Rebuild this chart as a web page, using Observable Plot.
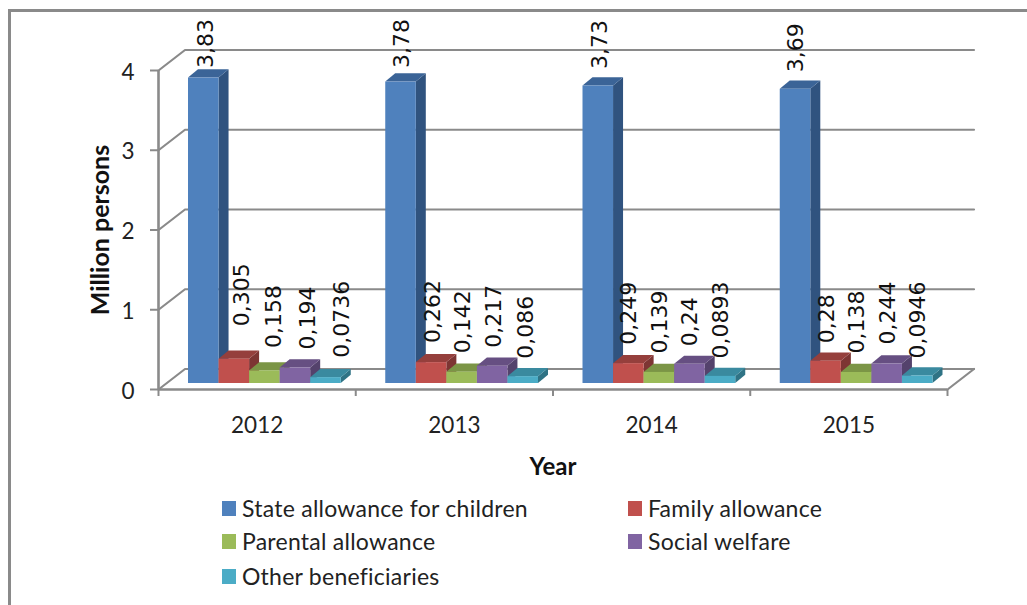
<!DOCTYPE html>
<html>
<head>
<meta charset="utf-8">
<script src="https://cdn.jsdelivr.net/npm/d3@7"></script>
<script src="https://cdn.jsdelivr.net/npm/@observablehq/plot@0.6"></script>
<style>
  html, body { margin: 0; padding: 0; background: #fff; }
  #page { position: relative; width: 1027px; height: 605px; overflow: hidden; }
  #page svg { display: block; }
  #border { position: absolute; left: 8px; top: 9px; right: 0; bottom: 0;
            border-left: 3px solid #8a8a8a; border-top: 3px solid #8a8a8a; pointer-events: none; }
  #legend { position: absolute; left: 0; top: 0; font-family: Lato, sans-serif; font-size: 23px; color: #222; }
  .entry { position: absolute; white-space: nowrap; line-height: 24px; letter-spacing: 0.25px; }
  .entry i { position: absolute; left: -20px; top: 5px; width: 14px; height: 15px; }
</style>
</head>
<body>
<div id="page">
  <div id="chart"></div>
  <div id="legend"></div>
  <div id="border"></div>
</div>
<script>
const years = [2012, 2013, 2014, 2015];
const seriesNames = ["State allowance for children", "Family allowance", "Parental allowance", "Social welfare", "Other beneficiaries"];
const stateAllowance = [3.83, 3.78, 3.73, 3.69];
const familyAllowance = [0.305, 0.262, 0.249, 0.28];
const parentalAllowance = [0.158, 0.142, 0.139, 0.138];
const socialWelfare = [0.194, 0.217, 0.24, 0.244];
const otherBeneficiaries = [0.0736, 0.086, 0.0893, 0.0946];
const seriesValues = [stateAllowance, familyAllowance, parentalAllowance, socialWelfare, otherBeneficiaries];

const frontColors = ["#4f81bd", "#c0504d", "#9bbb59", "#8064a2", "#4bacc6"];
const topColors = ["#3b6497", "#953f3c", "#7b9546", "#664f82", "#3a8a9f"];
const sideColors = ["#30537f", "#7d3533", "#667c3a", "#54426c", "#2f7385"];

// Pixel nudges for the rotated value labels: [rightward, upward], by year then series.
const labelNudges = [
  [[2, 10], [8, 33], [9, 23], [12.5, 18.5], [16, 20]],
  [[1, 14], [1.5, 19.5], [0.5, 19], [1, 18.5], [2.5, 18]],
  [[1.5, 17], [0, 19], [0.5, 19], [0, 18], [0.5, 18]],
  [[0.5, 17], [1, 18], [0.5, 19], [1, 19.5], [0, 17.5]]
];

// Projection of the oblique view, in axis units.
const pxX = 197.25, pxY = 79.75;
const wallX = 26.5 / pxX, wallY = 20.5 / pxY;   // depth of the floor and side wall
const barDX = 10 / pxX, barDY = 8.2 / pxY;       // depth of a single column
const groupPad = 30 / pxX, barW = 30.55 / pxX;   // column layout inside a year
const liftBars = -6;                             // columns stand slightly behind the front edge

const gridColor = "#8a8a8a";
const levels = [0, 1, 2, 3, 4];
const gridRows = levels.flatMap((v) => [
  {v, x: 0, y: v},
  {v, x: wallX, y: v + wallY},
  {v, x: 4 + wallX, y: v + wallY}
]);
const floorEdge = [{x: 4, y: 0}, {x: 4 + wallX, y: wallY}];

const bars = years.flatMap((year, i) => seriesValues.map((vals, k) => ({
  year, k, i, value: vals[i],
  x1: i + groupPad + k * barW,
  x2: i + groupPad + (k + 1) * barW
})));

// Each column draws side, top and front; later columns paint over earlier ones.
const columnMarks = bars.flatMap((b) => [
  Plot.areaY([
    {x: b.x2, y1: 0, y2: b.value},
    {x: b.x2 + barDX, y1: barDY, y2: b.value + barDY}
  ], {x: "x", y1: "y1", y2: "y2", fill: sideColors[b.k], dy: liftBars}),
  Plot.areaX([
    {y: b.value, x1: b.x1, x2: b.x2},
    {y: b.value + barDY, x1: b.x1 + barDX, x2: b.x2 + barDX}
  ], {y: "y", x1: "x1", x2: "x2", fill: topColors[b.k], dy: liftBars}),
  Plot.rect([b], {x1: "x1", x2: "x2", y1: () => 0, y2: "value", fill: frontColors[b.k], dy: liftBars})
]);

const labelMarks = bars.map((b) => {
  const [right, up] = labelNudges[b.i][b.k];
  return Plot.text([b], {
    x: (d) => (d.x1 + d.x2) / 2,
    y: "value",
    text: (d) => String(d.value).replace(".", ","),
    rotate: -90,
    textAnchor: "start",
    lineAnchor: "middle",
    dx: right,
    dy: liftBars - up,
    fontFamily: "DejaVu Sans",
    fontSize: 22,
    fill: "#111"
  });
});

const chart = Plot.plot({
  width: 1027,
  height: 490,
  marginLeft: 158,
  marginRight: 80,
  marginTop: 70,
  marginBottom: 101,
  x: {domain: [0, 4]},
  y: {domain: [0, 4]},
  style: {background: "transparent"},
  marks: [
    Plot.line(gridRows, {x: "x", y: "y", z: "v", stroke: gridColor, strokeWidth: 2.2}),
    Plot.line(floorEdge, {x: "x", y: "y", stroke: gridColor, strokeWidth: 2.2}),
    Plot.ruleX([0], {y1: 0, y2: 4, stroke: gridColor, strokeWidth: 2.6}),
    Plot.ruleY([0], {x1: 0, x2: 4, stroke: gridColor, strokeWidth: 2.6}),
    Plot.axisY({ticks: levels, tickSize: 8, label: null, stroke: gridColor, strokeWidth: 2, fill: "none"}),
    Plot.axisY({
      ticks: levels, tickFormat: "d", tickSize: 0, tickPadding: 24, label: null, dy: 2,
      fill: "#222", fontFamily: "Lato", fontSize: 22.5
    }),
    Plot.axisX({ticks: levels, tickSize: 7, label: null, stroke: gridColor, strokeWidth: 2, fill: "none"}),
    Plot.axisX({
      ticks: years.map((_, i) => i + 0.5),
      tickFormat: (d) => String(years[d - 0.5]),
      tickSize: 0, tickPadding: 28, label: null, fill: "#222",
      fontFamily: "Lato", fontSize: 22.5
    }),
    ...columnMarks,
    ...labelMarks,
    Plot.text(["Million persons"], {
      frameAnchor: "left", textAnchor: "middle", rotate: -90, dx: -58,
      fontFamily: "Lato", fontWeight: 700, fontSize: 25, letterSpacing: 1.7, fill: "#111"
    }),
    Plot.text(["Year"], {
      frameAnchor: "bottom", textAnchor: "middle", lineAnchor: "middle", dy: 78,
      fontFamily: "Lato", fontWeight: 700, fontSize: 24, fill: "#111"
    })
  ]
});
document.getElementById("chart").append(chart);

// Legend: two columns, filled row by row.
const legend = document.getElementById("legend");
const legendSlots = [[242, 496], [648, 496], [242, 529], [648, 529], [242, 564]];
seriesNames.forEach((name, k) => {
  const entry = document.createElement("div");
  entry.className = "entry";
  entry.style.left = legendSlots[k][0] + "px";
  entry.style.top = legendSlots[k][1] + "px";
  const swatch = document.createElement("i");
  swatch.style.background = frontColors[k];
  entry.append(swatch, name);
  legend.append(entry);
});
</script>
</body>
</html>
